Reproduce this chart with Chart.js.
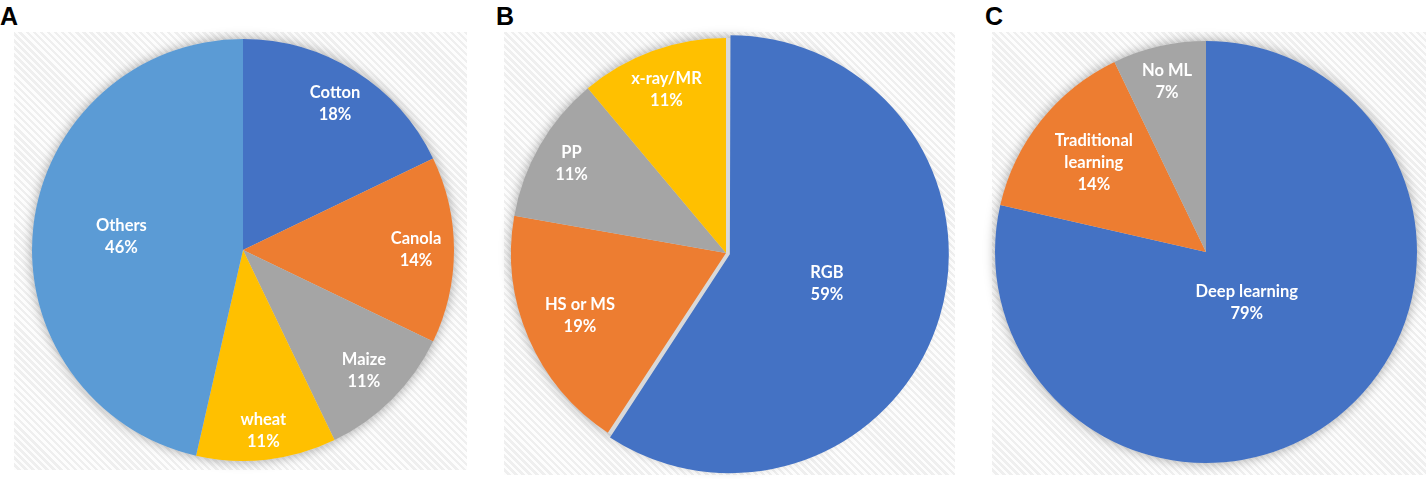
<!DOCTYPE html>
<html>
<head>
<meta charset="utf-8">
<title>Pie charts A B C</title>
<script src="https://cdn.jsdelivr.net/npm/chart.js@4.4.1/dist/chart.umd.min.js"></script>
<style>
  body { margin: 0; background: #fff; width: 1426px; height: 479px; position: relative; overflow: hidden; }
  .letter { position: absolute; top: 4px; font: bold 25px "Liberation Sans", Arial, sans-serif; line-height: 25px; color: #000; }
  .bg { position: absolute;
        background: repeating-linear-gradient(45deg, #fdfdfd 0 2.5px, #efefef 2.5px 5px); }
  .pie { position: absolute; }
</style>
</head>
<body>

<div class="letter" style="left:0px">A</div>
<div class="letter" style="left:496px">B</div>
<div class="letter" style="left:985px">C</div>

<div class="bg" style="left:14px;top:32px;width:453px;height:438px"></div>
<div class="bg" style="left:504px;top:32px;width:451px;height:443px"></div>
<div class="bg" style="left:992px;top:32px;width:434px;height:443px"></div>

<div class="pie" style="left:18px;top:25px;width:450px;height:450px"><canvas id="chartA"></canvas></div>
<div class="pie" style="left:491px;top:18px;width:470px;height:470px"><canvas id="chartB"></canvas></div>
<div class="pie" style="left:981px;top:27px;width:450px;height:450px"><canvas id="chartC"></canvas></div>

<script>
// A: crops
const cropLabels = ["Cotton", "Canola", "Maize", "wheat", "Others"];
const cropCounts = [5, 4, 3, 3, 13];

// B: sensors
const sensorLabels = ["RGB", "HS or MS", "PP", "x-ray/MR"];
const sensorCounts = [16, 5, 3, 3];

// C: methods
const methodLabels = ["Deep learning", "Traditional\nlearning", "No ML"];
const methodCounts = [22, 4, 2];

const office = {
  blue: "#4472C4",
  orange: "#ED7D31",
  gray: "#A5A5A5",
  gold: "#FFC000",
  light: "#5B9BD5"
};

// soft shadow under the pie
const pieShadow = {
  id: "pieShadow",
  beforeDatasetsDraw(chart) {
    const arc = chart.getDatasetMeta(0).data[1];
    if (!arc) return;
    const ctx = chart.ctx;
    ctx.save();
    ctx.shadowColor = "rgba(0,0,0,0.35)";
    ctx.shadowBlur = 12;
    ctx.fillStyle = "#d9d9d9";
    ctx.beginPath();
    ctx.arc(arc.x, arc.y, arc.outerRadius, 0, Math.PI * 2);
    ctx.fill();
    ctx.restore();
  }
};

// white labels inside the slices: name + percent
const sliceLabels = {
  id: "sliceLabels",
  afterDatasetsDraw(chart, args, opts) {
    const ctx = chart.ctx;
    const meta = chart.getDatasetMeta(0);
    const values = chart.data.datasets[0].data;
    const total = values.reduce((a, b) => a + b, 0);
    ctx.save();
    ctx.fillStyle = "#fff";
    ctx.font = "bold 16.5px Lato, 'Open Sans', sans-serif";
    ctx.textAlign = "center";
    ctx.textBaseline = "middle";
    meta.data.forEach((arc, i) => {
      const p = arc.getProps(["x", "y", "startAngle", "endAngle", "outerRadius"], true);
      const mid = (p.startAngle + p.endAngle) / 2;
      const r = p.outerRadius * opts.pos[i];
      const cx = p.x + Math.cos(mid) * r;
      const cy = p.y + Math.sin(mid) * r;
      const lines = String(chart.data.labels[i]).split("\n");
      lines.push(Math.round(values[i] / total * 100) + "%");
      const lh = 22;
      const top = cy - (lines.length - 1) * lh / 2;
      lines.forEach((t, k) => ctx.fillText(t, cx, top + k * lh));
    });
    ctx.restore();
  }
};

function makePie(id, labels, counts, colors, radius, offsets, pos) {
  new Chart(document.getElementById(id), {
    type: "pie",
    data: {
      labels: labels,
      datasets: [{
        data: counts,
        backgroundColor: colors,
        borderWidth: 0,
        offset: offsets
      }]
    },
    options: {
      responsive: true,
      maintainAspectRatio: false,
      animation: false,
      radius: radius,
      layout: { padding: 0 },
      plugins: {
        legend: { display: false },
        tooltip: { enabled: false },
        sliceLabels: { pos: pos }
      }
    },
    plugins: [pieShadow, sliceLabels]
  });
}

makePie("chartA", cropLabels, cropCounts,
  [office.blue, office.orange, office.gray, office.gold, office.light],
  211, 0, [0.82, 0.82, 0.81, 0.86, 0.58]);

// Chart.js v4 moves an arc by offset/4, so 16 gives the ~4px split of RGB
makePie("chartB", sensorLabels, sensorCounts,
  [office.blue, office.orange, office.gray, office.gold],
  215, [16, 0, 0, 0], [0.49, 0.74, 0.83, 0.81]);

makePie("chartC", methodLabels, methodCounts,
  [office.blue, office.orange, office.gray],
  211, 0, [0.31, 0.68, 0.83]);
</script>
</body>
</html>
